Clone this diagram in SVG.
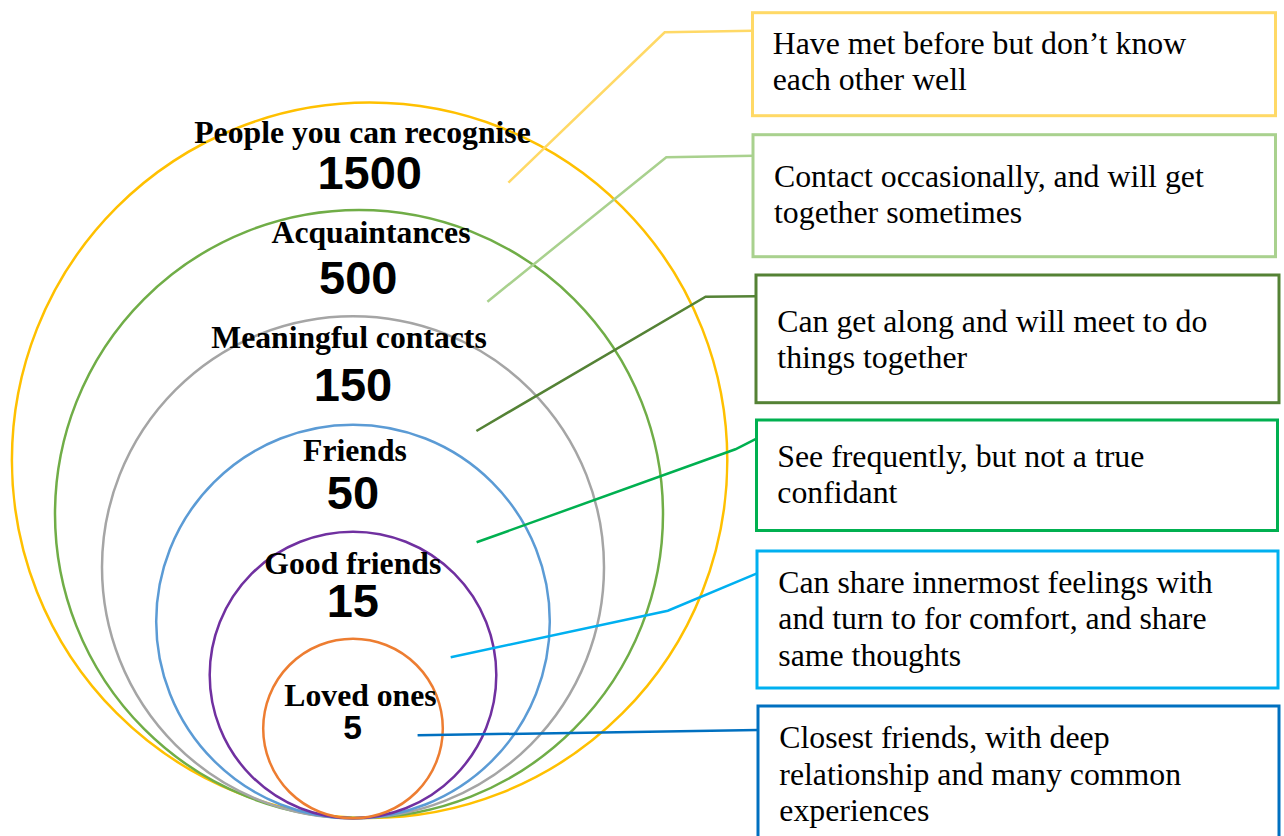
<svg xmlns="http://www.w3.org/2000/svg" width="1284" height="836" viewBox="0 0 1284 836">
<style>
.ring{fill:none;stroke-width:2.5}
.conn{fill:none;stroke-width:2.5;stroke-linejoin:miter}
.box{fill:#fff;stroke-width:3}
.lbl{font-family:"Liberation Serif","Times New Roman",serif;font-weight:bold;font-size:31.7px;fill:#000;text-anchor:middle}
.num{font-family:"Liberation Sans",Arial,sans-serif;font-weight:bold;font-size:47px;fill:#000;text-anchor:middle}
.txt{font-family:"Liberation Serif","Times New Roman",serif;font-size:31.8px;fill:#000}
</style>
<rect width="1284" height="836" fill="#fff"/>
<g id="circles">
<circle id="c1500" class="ring" cx="369.6" cy="460.3" r="357.7" stroke="#FFC000"/>
<circle id="c500" class="ring" cx="359" cy="514" r="304" stroke="#70AD47"/>
<circle id="c150" class="ring" cx="353" cy="567.3" r="251" stroke="#A5A5A5"/>
<circle id="c50" class="ring" cx="353" cy="621.5" r="196.8" stroke="#5B9BD5"/>
<circle id="c15" class="ring" cx="353" cy="675" r="143.3" stroke="#7030A0"/>
<circle id="c5" class="ring" cx="353" cy="728.5" r="89.8" stroke="#ED7D31"/>
</g>
<g id="connectors">
<polyline class="conn" stroke="#FFD966" points="508.4,182.7 664.7,32.3 753,30.8"/>
<polyline class="conn" stroke="#A9D18E" points="487.4,301.7 666.3,157.3 754,155.7"/>
<polyline class="conn" stroke="#548235" points="476.4,431 705.6,296.7 757,296.2"/>
<polyline class="conn" stroke="#00B050" points="476.6,542.3 735.4,449.3 756,438.8"/>
<polyline class="conn" stroke="#00B0F0" points="450.7,657.3 667.8,610.7 757,573.3"/>
<polyline class="conn" stroke="#0070C0" points="417.6,735.3 758,730"/>
</g>
<g id="ring-labels">
<text class="lbl" x="362.5" y="143.3">People you can recognise</text>
<text class="num" x="369.7" y="189.3">1500</text>
<text class="lbl" x="371" y="242.7">Acquaintances</text>
<text class="num" x="358.3" y="294">500</text>
<text class="lbl" x="349" y="348.3">Meaningful contacts</text>
<text class="num" x="353" y="401">150</text>
<text class="lbl" x="355" y="460.7">Friends</text>
<text class="num" x="353" y="509.3">50</text>
<text class="lbl" x="352.8" y="574">Good friends</text>
<text class="num" x="352.8" y="617.3">15</text>
<text class="lbl" x="360.5" y="706">Loved ones</text>
<text class="num" x="352.6" y="739.3" style="font-size:33.5px">5</text>
</g>
<g id="box1">
<rect class="box" x="752.5" y="12.7" width="523" height="103" stroke="#FFD966"/>
<text class="txt" x="772.7" y="54">Have met before but don’t know</text>
<text class="txt" x="772.7" y="90">each other well</text>
</g>
<g id="box2">
<rect class="box" x="753" y="134.7" width="522.5" height="122" stroke="#A9D18E"/>
<text class="txt" x="774" y="187.3">Contact occasionally, and will get</text>
<text class="txt" x="774" y="223.3">together sometimes</text>
</g>
<g id="box3">
<rect class="box" x="756" y="275" width="523" height="127.7" stroke="#548235"/>
<text class="txt" x="777.3" y="331.7">Can get along and will meet to do</text>
<text class="txt" x="777.3" y="368.3">things together</text>
</g>
<g id="box4">
<rect class="box" x="756.5" y="420" width="521" height="110.5" stroke="#00B050"/>
<text class="txt" x="777.3" y="466.7">See frequently, but not a true</text>
<text class="txt" x="777.3" y="503.3">confidant</text>
</g>
<g id="box5">
<rect class="box" x="757" y="551" width="521" height="137" stroke="#00B0F0"/>
<text class="txt" x="778.3" y="593.3">Can share innermost feelings with</text>
<text class="txt" x="778.3" y="629.3">and turn to for comfort, and share</text>
<text class="txt" x="778.3" y="666">same thoughts</text>
</g>
<g id="box6">
<rect class="box" x="758" y="706" width="521" height="150" stroke="#0070C0"/>
<text class="txt" x="779.3" y="747.7">Closest friends, with deep</text>
<text class="txt" x="779.3" y="785">relationship and many common</text>
<text class="txt" x="779.3" y="821">experiences</text>
</g>
</svg>
